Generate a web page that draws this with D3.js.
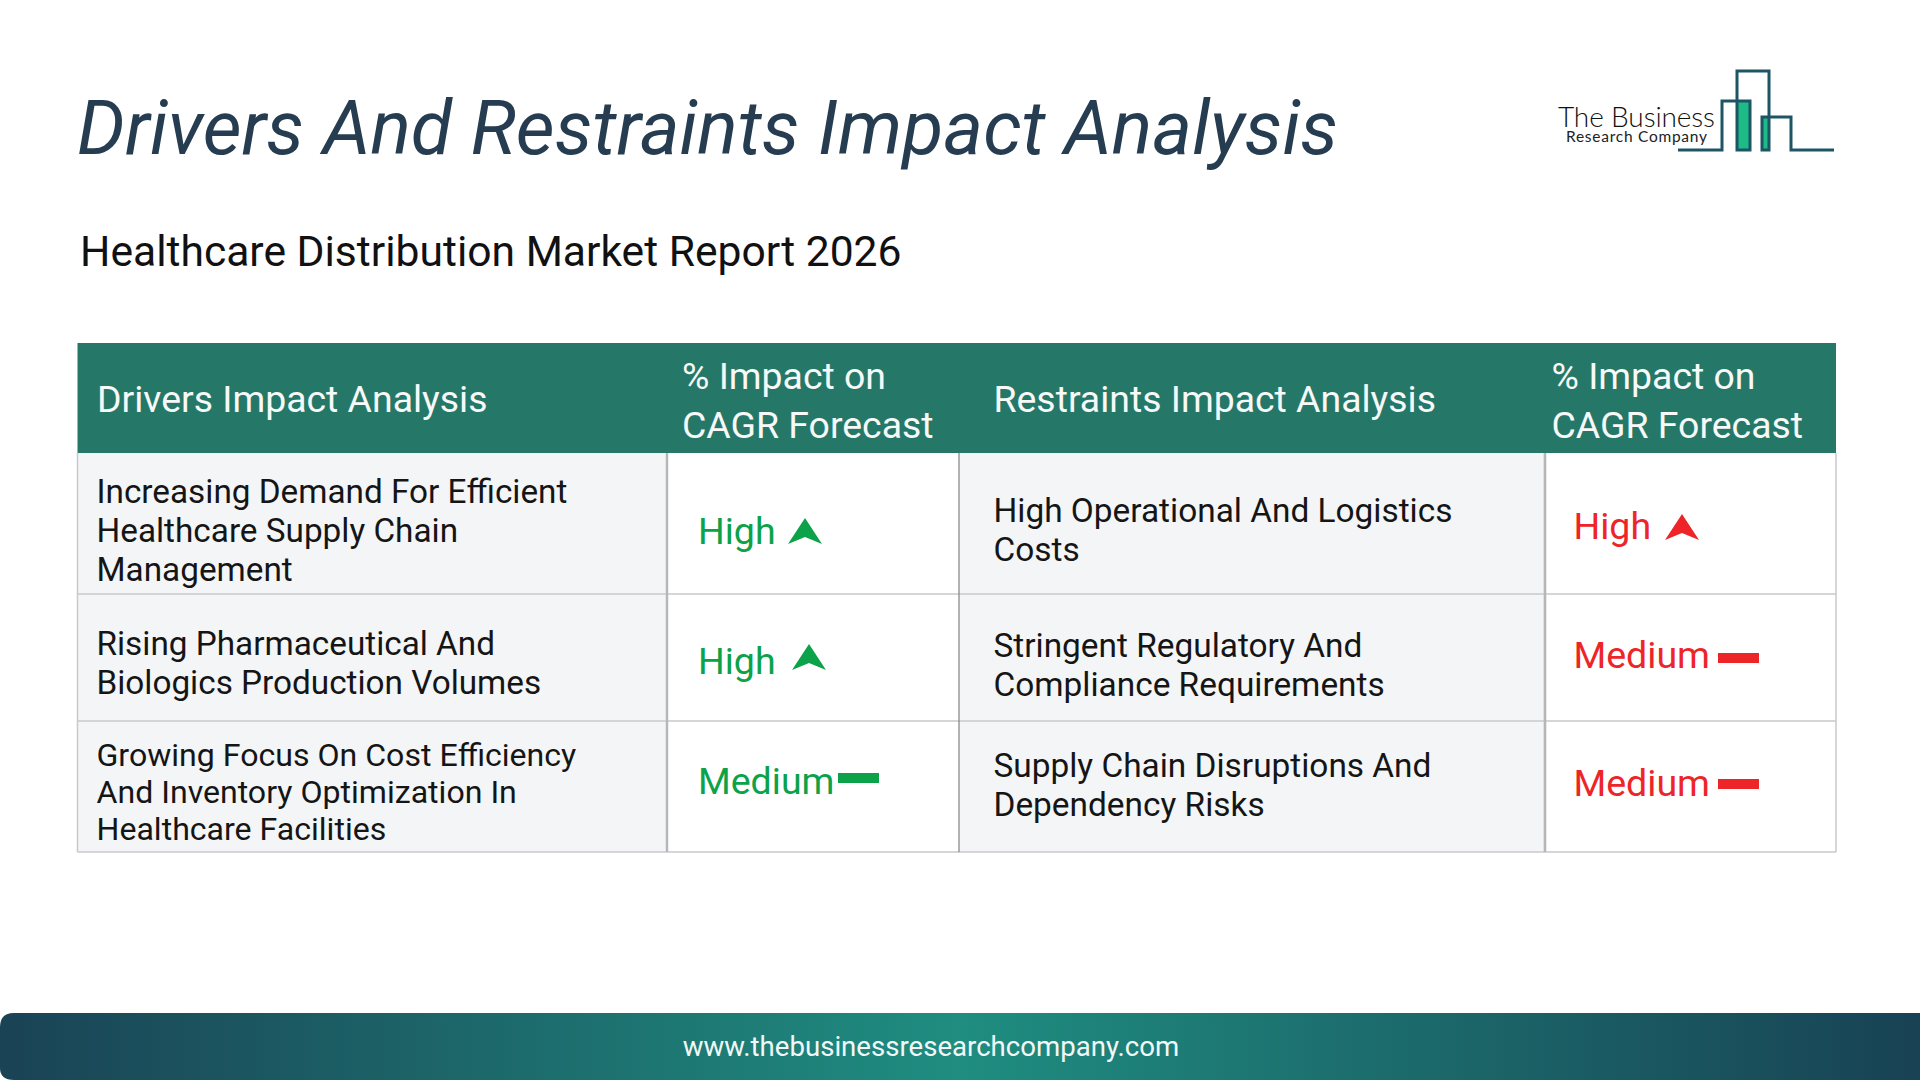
<!DOCTYPE html>
<html>
<head>
<meta charset="utf-8">
<title>Drivers And Restraints Impact Analysis</title>
<script src="https://cdn.jsdelivr.net/npm/d3@7"></script>
<style>
  html, body { margin: 0; padding: 0; background: #fff; }
  svg { display: block; }
  text { font-family: Roboto, sans-serif; }
</style>
</head>
<body>
<div id="chart"></div>
<script>
const titleText = 'Drivers And Restraints Impact Analysis';
const subtitleText = 'Healthcare Distribution Market Report 2026';
const footerText = 'www.thebusinessresearchcompany.com';

const headers = ['Drivers Impact Analysis', ['% Impact on', 'CAGR Forecast'], 'Restraints Impact Analysis', ['% Impact on', 'CAGR Forecast']];
const driverNames = [
  ['Increasing Demand For Efficient', 'Healthcare Supply Chain', 'Management'],
  ['Rising Pharmaceutical And', 'Biologics Production Volumes'],
  ['Growing Focus On Cost Efficiency', 'And Inventory Optimization In', 'Healthcare Facilities']
];
const driverImpact = ['High', 'High', 'Medium'];
const restraintNames = [
  ['High Operational And Logistics', 'Costs'],
  ['Stringent Regulatory And', 'Compliance Requirements'],
  ['Supply Chain Disruptions And', 'Dependency Risks']
];
const restraintImpact = ['High', 'Medium', 'Medium'];

const width = 1920, height = 1080;
const green = '#0ba24a', red = '#ee2528', teal = '#257868', logoLine = '#1d5565';

// column and row edges
const colEdges = [77.5, 667, 959, 1545, 1836];
const rowEdges = [453, 594, 721, 852];
const x = d3.scaleOrdinal([0, 1, 2, 3], colEdges);

const svg = d3.select('#chart').append('svg')
  .attr('width', width)
  .attr('height', height);

const defs = svg.append('defs');
const grad = defs.append('linearGradient').attr('id', 'footerGrad');
grad.append('stop').attr('offset', '0%').attr('stop-color', '#1a4355');
grad.append('stop').attr('offset', '50%').attr('stop-color', '#1f8d80');
grad.append('stop').attr('offset', '100%').attr('stop-color', '#184254');

svg.append('text')
  .attr('x', 77)
  .attr('y', 154)
  .attr('fill', '#263c50')
  .style('font-size', '75.5px')
  .style('font-style', 'italic')
  .text(titleText);

svg.append('text')
  .attr('x', 80)
  .attr('y', 266)
  .attr('fill', '#111')
  .style('font-size', '42.6px')
  .text(subtitleText);

// header band
svg.append('rect')
  .attr('x', colEdges[0]).attr('y', 343)
  .attr('width', colEdges[4] - colEdges[0]).attr('height', 110)
  .attr('fill', teal);

const headerX = [97, 682, 993.5, 1551.5];
const headerG = svg.selectAll('.header')
  .data(headers)
  .enter().append('g')
    .attr('class', 'header')
    .attr('transform', (d, i) => `translate(${headerX[i]},0)`);

headerG.selectAll('text')
  .data(d => (Array.isArray(d) ? d : [d]).map((line, i, all) => ({line, i, n: all.length})))
  .enter().append('text')
    .attr('y', d => d.n === 1 ? 412 : 389 + d.i * 48.5)
    .attr('fill', '#f6f9f8')
    .style('font-size', '37.4px')
    .text(d => d.line);

// shaded name cells
[[0, 1], [2, 3]].forEach(([a, b]) => {
  svg.append('rect')
    .attr('x', x(a)).attr('y', rowEdges[0])
    .attr('width', colEdges[b] - colEdges[a]).attr('height', rowEdges[3] - rowEdges[0])
    .attr('fill', '#f3f5f7');
});

// grid
const gridColor = '#c9c9cc';
svg.selectAll('.rowline')
  .data(rowEdges.slice(1))
  .enter().append('line')
    .attr('class', 'rowline')
    .attr('x1', colEdges[0]).attr('x2', colEdges[4])
    .attr('y1', d => d).attr('y2', d => d)
    .attr('stroke', gridColor)
    .attr('stroke-width', 1.6);

const vlineStyle = [
  {c: gridColor, w: 1.5}, {c: '#b4b6b9', w: 2.4}, {c: '#8a8a8c', w: 1.3}, {c: '#b4b6b9', w: 2.6}, {c: gridColor, w: 1.5}
];
svg.selectAll('.colline')
  .data(colEdges)
  .enter().append('line')
    .attr('class', 'colline')
    .attr('x1', d => d).attr('x2', d => d)
    .attr('y1', rowEdges[0]).attr('y2', rowEdges[3])
    .attr('stroke', (d, i) => vlineStyle[i].c)
    .attr('stroke-width', (d, i) => vlineStyle[i].w);

// name cells: first-line baseline per row as in the picture
function nameCells (names, textX, baselines, lineHeights, size) {
  const g = svg.append('g').attr('transform', `translate(${textX},0)`);
  names.forEach((lines, r) => {
    g.selectAll(`.r${r}`)
      .data(lines)
      .enter().append('text')
        .attr('class', `r${r}`)
        .attr('y', (d, i) => baselines[r] + i * lineHeights[r])
        .attr('fill', '#151515')
        .style('font-size', size[r] + 'px')
        .text(d => d);
  });
}
nameCells(driverNames, 96.5, [503, 655, 766], [39, 39, 37], [33.3, 33.3, 32.1]);
nameCells(restraintNames, 993.5, [522, 657, 777], [39, 39, 39], [33.4, 33.4, 33.4]);

// impact cells
function impactCells (levels, textX, color, baselines, iconX, iconY) {
  levels.forEach((level, r) => {
    svg.append('text')
      .attr('x', textX)
      .attr('y', baselines[r])
      .attr('fill', color)
      .style('font-size', '37.5px')
      .text(level);

    const ix = iconX[r], iy = iconY[r];
    if (level === 'High') {
      const p = d3.path();
      p.moveTo(ix + 17, iy - 26);
      p.lineTo(ix + 34, iy);
      p.lineTo(ix + 17, iy - 7);
      p.lineTo(ix, iy);
      p.closePath();
      svg.append('path').attr('d', p.toString()).attr('fill', color);
    } else {
      svg.append('rect')
        .attr('x', ix).attr('y', iy - 20)
        .attr('width', 41).attr('height', 10)
        .attr('fill', color);
    }
  });
}
impactCells(driverImpact, 698, green, [544, 674, 794], [788, 792, 838], [544, 670, 793]);
impactCells(restraintImpact, 1573.5, red, [539, 668, 796], [1665, 1718, 1718], [540, 673, 799]);

// logo
const logo = svg.append('g').attr('fill', 'none').attr('stroke', logoLine).attr('stroke-width', 3);
svg.insert('rect', 'g').attr('x', 1737).attr('y', 101).attr('width', 13).attr('height', 49).attr('fill', '#1dbb85');
svg.insert('rect', 'g').attr('x', 1762).attr('y', 117).attr('width', 7).attr('height', 33).attr('fill', '#1dbb85');

const outline = d3.line();
logo.append('path').attr('d', outline([[1678, 150], [1722, 150], [1722, 101], [1750, 101], [1750, 150], [1737, 150], [1737, 71], [1769, 71], [1769, 150], [1762, 150], [1762, 117], [1791, 117], [1791, 150], [1834, 150]]));

svg.append('text')
  .attr('x', 1558).attr('y', 127)
  .attr('fill', '#111')
  .style('font-family', 'Lato, sans-serif')
  .style('font-size', '28px')
  .style('font-weight', 300)
  .attr('textLength', 157)
  .text('The Business');
svg.append('text')
  .attr('x', 1566).attr('y', 142)
  .attr('fill', '#222')
  .style('font-family', 'Lato, sans-serif')
  .style('font-size', '15.5px')
  .attr('textLength', 141)
  .text('Research Company');

// footer
svg.append('path')
  .attr('d', `M0,1068 L0,1027 Q0,1013 14,1013 L${width},1013 L${width},1080 L14,1080 Q0,1080 0,1068 Z`)
  .attr('fill', 'url(#footerGrad)');

svg.append('text')
  .attr('x', 931)
  .attr('y', 1056)
  .attr('text-anchor', 'middle')
  .attr('fill', '#f2f8f7')
  .style('font-size', '27.6px')
  .text(footerText);
</script>
</body>
</html>
